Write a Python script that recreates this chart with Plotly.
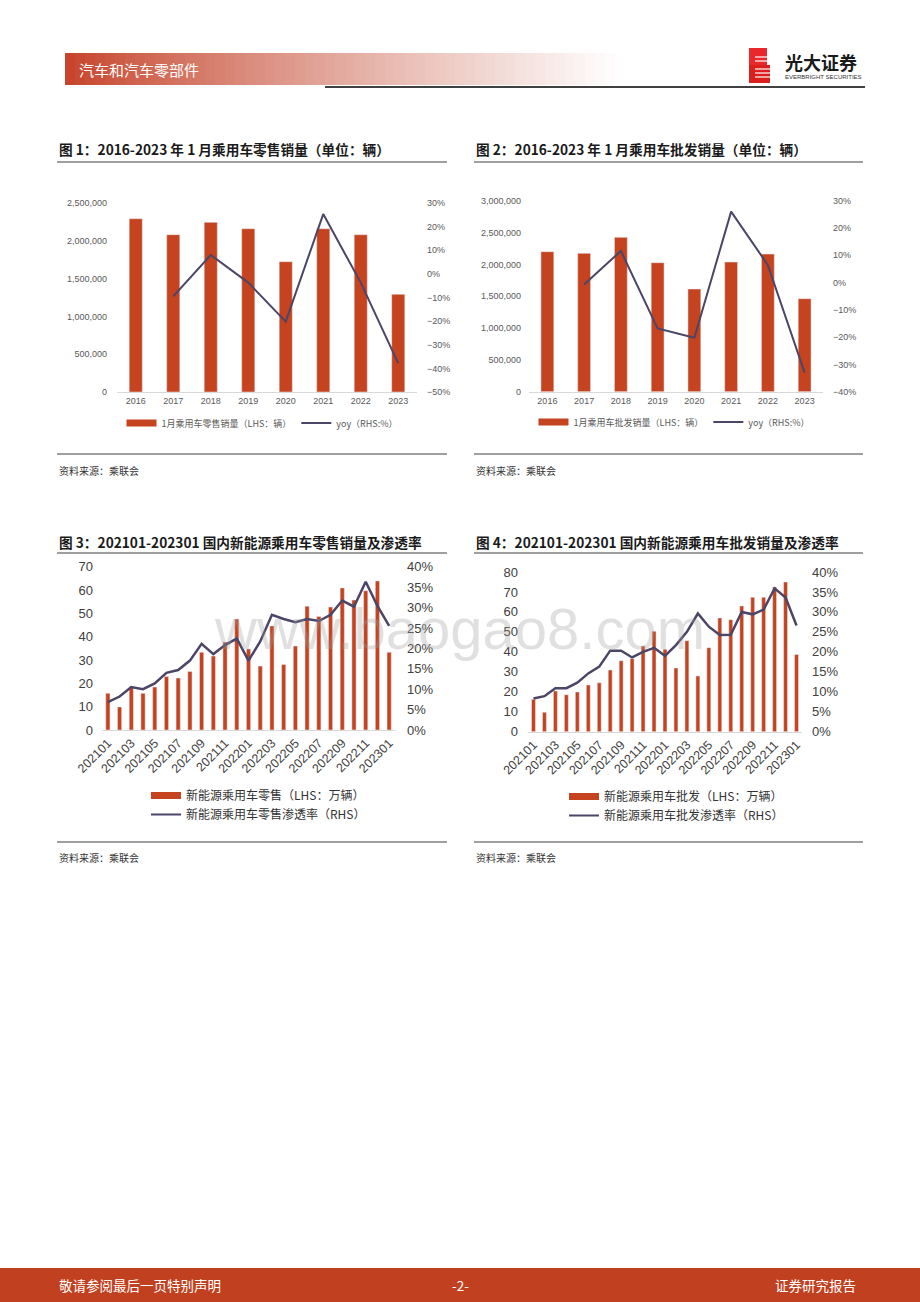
import plotly.graph_objects as go

W, H = 920, 1302


def px(x):
    return x / W


def py(y):
    return 1 - y / H


# ---------------- data ----------------
years = ['2016', '2017', '2018', '2019', '2020', '2021', '2022', '2023']
retail_jan = [2293000, 2081000, 2244000, 2160000, 1724000, 2160000, 2081000, 1292000]
retail_yoy = [None, -9.5, 8.0, -3.7, -20.2, 25.3, -3.7, -37.9]
wholesale_jan = [2199000, 2173000, 2424000, 2026000, 1613000, 2037000, 2162000, 1461000]
wholesale_yoy = [None, -0.7, 11.6, -16.8, -20.2, 26.0, 6.4, -33.0]

months = ['202101', '202102', '202103', '202104', '202105', '202106', '202107', '202108',
          '202109', '202110', '202111', '202112', '202201', '202202', '202203', '202204',
          '202205', '202206', '202207', '202208', '202209', '202210', '202211', '202212',
          '202301']
month_ticks = months[::2]
nev_retail = [15.7, 9.9, 18.6, 15.7, 18.4, 22.9, 22.3, 25.1, 33.3, 31.7, 37.7, 47.6, 34.7,
              27.4, 44.6, 28.1, 36.0, 53.1, 48.7, 52.7, 60.9, 55.7, 59.7, 63.9, 33.3]
nev_retail_pen = [6.8, 8.2, 10.5, 10.0, 11.4, 14.0, 14.7, 17.0, 21.1, 18.6, 20.8, 22.4, 17.0,
                  21.7, 28.2, 27.2, 26.4, 27.2, 26.7, 28.2, 31.7, 30.2, 36.3, 30.4, 25.5]
nev_wholesale = [16.2, 9.7, 20.4, 18.5, 19.9, 23.4, 24.5, 30.9, 35.6, 36.6, 42.9, 50.3, 41.3,
                 31.9, 45.6, 27.9, 42.1, 57.0, 56.1, 63.0, 67.3, 67.3, 72.5, 75.0, 38.7]
nev_wholesale_pen = [8.3, 8.9, 10.9, 10.9, 12.3, 14.6, 16.3, 20.3, 20.3, 18.6, 20.0, 21.0, 19.0,
                     21.7, 25.0, 29.6, 26.3, 24.2, 24.3, 30.0, 29.4, 30.6, 35.9, 33.6, 26.6]

# ---------------- style ----------------
BAR = '#C5441F'
LINE = '#4B4567'
CJK = 'Noto Sans CJK SC'
LAT = 'Liberation Sans, Noto Sans CJK SC'
GRAY = '#595959'

fig = go.Figure()

# Chart 1
fig.add_trace(go.Bar(x=years, y=retail_jan, marker_color=BAR, width=0.35,
                     xaxis='x', yaxis='y', showlegend=False, name='1月乘用车零售销量（LHS：辆）'))
fig.add_trace(go.Scatter(x=years, y=retail_yoy, mode='lines', line=dict(color=LINE, width=2),
                         xaxis='x', yaxis='y2', showlegend=False, name='yoy（RHS:%）'))
fig.add_trace(go.Scatter(x=[None], y=[None], mode='lines', line=dict(color=BAR, width=7),
                         xaxis='x', yaxis='y', name='1月乘用车零售销量（LHS：辆）', legend='legend'))
fig.add_trace(go.Scatter(x=[None], y=[None], mode='lines', line=dict(color=LINE, width=2),
                         xaxis='x', yaxis='y', name='yoy（RHS:%）', legend='legend'))

# Chart 2
fig.add_trace(go.Bar(x=years, y=wholesale_jan, marker_color=BAR, width=0.35,
                     xaxis='x2', yaxis='y3', showlegend=False))
fig.add_trace(go.Scatter(x=years, y=wholesale_yoy, mode='lines', line=dict(color=LINE, width=2),
                         xaxis='x2', yaxis='y4', showlegend=False))
fig.add_trace(go.Scatter(x=[None], y=[None], mode='lines', line=dict(color=BAR, width=7),
                         xaxis='x2', yaxis='y3', name='1月乘用车批发销量（LHS：辆）', legend='legend2'))
fig.add_trace(go.Scatter(x=[None], y=[None], mode='lines', line=dict(color=LINE, width=2),
                         xaxis='x2', yaxis='y3', name='yoy（RHS:%）', legend='legend2'))

# Chart 3
fig.add_trace(go.Bar(x=months, y=nev_retail, marker_color=BAR, width=0.36,
                     xaxis='x3', yaxis='y5', showlegend=False))
fig.add_trace(go.Scatter(x=months, y=nev_retail_pen, mode='lines', line=dict(color=LINE, width=2.5),
                         xaxis='x3', yaxis='y6', showlegend=False))
fig.add_trace(go.Scatter(x=[None], y=[None], mode='lines', line=dict(color=BAR, width=7),
                         xaxis='x3', yaxis='y5', name='新能源乘用车零售（LHS：万辆）', legend='legend3'))
fig.add_trace(go.Scatter(x=[None], y=[None], mode='lines', line=dict(color=LINE, width=2),
                         xaxis='x3', yaxis='y5', name='新能源乘用车零售渗透率（RHS）', legend='legend3'))

# Chart 4
fig.add_trace(go.Bar(x=months, y=nev_wholesale, marker_color=BAR, width=0.36,
                     xaxis='x4', yaxis='y7', showlegend=False))
fig.add_trace(go.Scatter(x=months, y=nev_wholesale_pen, mode='lines', line=dict(color=LINE, width=2.5),
                         xaxis='x4', yaxis='y8', showlegend=False))
fig.add_trace(go.Scatter(x=[None], y=[None], mode='lines', line=dict(color=BAR, width=7),
                         xaxis='x4', yaxis='y7', name='新能源乘用车批发（LHS：万辆）', legend='legend4'))
fig.add_trace(go.Scatter(x=[None], y=[None], mode='lines', line=dict(color=LINE, width=2),
                         xaxis='x4', yaxis='y7', name='新能源乘用车批发渗透率（RHS）', legend='legend4'))

small_tick = dict(family=LAT, size=9, color=GRAY)
big_tick = dict(family=LAT, size=13, color='#404040')
rot_tick = dict(family=LAT, size=12.5, color='#404040')


def xax(domain, anchor, font, angle=0, tickvals=None):
    d = dict(domain=domain, anchor=anchor, type='category', showgrid=False, zeroline=False,
             showline=True, linecolor='#d9d9d9', linewidth=1, ticks='', tickfont=font,
             tickangle=angle, fixedrange=True)
    if tickvals is not None:
        d['tickvals'] = tickvals
    return d


def yax(domain, anchor, rng, dtick, font, fmt=None, suffix='', side='left', overlay=None, standoff=8):
    d = dict(domain=domain, anchor=anchor, range=rng, dtick=dtick, tick0=rng[0], showgrid=False,
             zeroline=False, showline=False, ticks='', tickfont=font, side=side,
             ticksuffix=suffix, ticklabelstandoff=standoff, fixedrange=True)
    if fmt:
        d['tickformat'] = fmt
    if overlay:
        d['overlaying'] = overlay
    return d


d1x = [px(117), px(417)]
d1y = [py(392), py(203)]
d2x = [px(529), px(823)]
d2y = [py(391.7), py(200.7)]
d3x = [px(102), px(395)]
d3y = [py(730), py(566.7)]
d4x = [px(528), px(802)]
d4y = [py(731.7), py(572)]

fig.update_layout(
    xaxis=xax(d1x, 'y', small_tick),
    yaxis=yax(d1y, 'x', [0, 2500000], 500000, small_tick, fmt=',d', standoff=9),
    yaxis2=yax(d1y, 'x', [-50, 30], 10, small_tick, suffix='%', side='right', overlay='y', standoff=9),
    xaxis2=xax(d2x, 'y3', small_tick),
    yaxis3=yax(d2y, 'x2', [0, 3000000], 500000, small_tick, fmt=',d', standoff=7),
    yaxis4=yax(d2y, 'x2', [-40, 30], 10, small_tick, suffix='%', side='right', overlay='y3', standoff=9),
    xaxis3=xax(d3x, 'y5', rot_tick, -45, month_ticks),
    yaxis5=yax(d3y, 'x3', [0, 70], 10, big_tick, standoff=8),
    yaxis6=yax(d3y, 'x3', [0, 40], 5, big_tick, suffix='%', side='right', overlay='y5', standoff=11),
    xaxis4=xax(d4x, 'y7', rot_tick, -45, month_ticks),
    yaxis7=yax(d4y, 'x4', [0, 80], 10, big_tick, standoff=9),
    yaxis8=yax(d4y, 'x4', [0, 40], 5, big_tick, suffix='%', side='right', overlay='y7', standoff=9),
)

leg_small = dict(family=CJK, size=9, color=GRAY)
leg_big = dict(family=CJK, size=12, color='#333333')
fig.update_layout(
    legend=dict(orientation='h', x=px(262), xanchor='center', y=py(423), yanchor='middle',
                font=leg_small, bgcolor='rgba(0,0,0,0)', itemwidth=30, tracegroupgap=0),
    legend2=dict(orientation='h', x=px(674), xanchor='center', y=py(422), yanchor='middle',
                 font=leg_small, bgcolor='rgba(0,0,0,0)', itemwidth=30, tracegroupgap=0),
    legend3=dict(orientation='v', x=px(146), xanchor='left', y=py(805), yanchor='middle',
                 font=leg_big, bgcolor='rgba(0,0,0,0)', itemwidth=30, tracegroupgap=0),
    legend4=dict(orientation='v', x=px(564), xanchor='left', y=py(806), yanchor='middle',
                 font=leg_big, bgcolor='rgba(0,0,0,0)', itemwidth=30, tracegroupgap=0),
)

shapes = []
annotations = []

# ---- header gradient band ----
n = 56
x0, x1 = 65, 625
for i in range(n):
    t = i / (n - 1)
    r = int(200 + (255 - 200) * t)
    g = int(68 + (255 - 68) * (t ** 0.85))
    b = int(44 + (255 - 44) * (t ** 0.85))
    xa = x0 + (x1 - x0) * i / n
    xb = x0 + (x1 - x0) * (i + 1) / n + 0.5
    shapes.append(dict(type='rect', xref='paper', yref='paper', x0=px(xa), x1=px(xb),
                       y0=py(85), y1=py(53), line=dict(width=0), fillcolor=f'rgb({r},{g},{b})',
                       layer='below'))
shapes.append(dict(type='line', xref='paper', yref='paper', x0=px(325), x1=px(865), y0=py(87),
                   y1=py(87), line=dict(color='#404040', width=2)))
annotations.append(dict(text='汽车和汽车零部件', x=px(77), y=py(69), xref='paper', yref='paper',
                        xanchor='left', yanchor='middle', showarrow=False,
                        font=dict(family=CJK, size=15, color='white')))

# ---- logo ----
shapes.append(dict(type='rect', xref='paper', yref='paper', x0=px(749), x1=px(767), y0=py(65),
                   y1=py(48), line=dict(width=0), fillcolor='#E8282B'))
shapes.append(dict(type='rect', xref='paper', yref='paper', x0=px(749), x1=px(770), y0=py(83),
                   y1=py(65), line=dict(width=0), fillcolor='#D9201F'))
for yy in [57, 61, 69, 73, 77]:
    shapes.append(dict(type='line', xref='paper', yref='paper', x0=px(755), x1=px(771), y0=py(yy),
                       y1=py(yy), line=dict(color='white', width=1.2)))
annotations.append(dict(text='<b>光大证券</b>', x=px(783), y=py(62), xref='paper', yref='paper',
                        xanchor='left', yanchor='middle', showarrow=False,
                        font=dict(family=CJK, size=18, color='#1a1a1a')))
annotations.append(dict(text='EVERBRIGHT SECURITIES', x=px(783), y=py(77), xref='paper', yref='paper',
                        xanchor='left', yanchor='middle', showarrow=False,
                        font=dict(family=LAT, size=6, color='#333333')))

# ---- titles / lines / sources ----
titles = [
    ('图 1：2016-2023 年 1 月乘用车零售销量（单位：辆）', 57, 149),
    ('图 2：2016-2023 年 1 月乘用车批发销量（单位：辆）', 474, 149),
    ('图 3：202101-202301 国内新能源乘用车零售销量及渗透率', 57, 542),
    ('图 4：202101-202301 国内新能源乘用车批发销量及渗透率', 474, 542),
]
for txt, x, y in titles:
    annotations.append(dict(text='<b>' + txt + '</b>', x=px(x), y=py(y), xref='paper', yref='paper',
                            xanchor='left', yanchor='middle', showarrow=False,
                            font=dict(family=CJK, size=13.7, color='#1a1a1a')))
for (xa, xb) in [(57, 447), (474, 863)]:
    for yy in [162, 454, 553, 842]:
        shapes.append(dict(type='line', xref='paper', yref='paper', x0=px(xa), x1=px(xb), y0=py(yy),
                           y1=py(yy), line=dict(color='#7f7f7f', width=1.5)))
    for yy in [470, 857]:
        annotations.append(dict(text='资料来源：乘联会', x=px(xa), y=py(yy), xref='paper', yref='paper',
                                xanchor='left', yanchor='middle', showarrow=False,
                                font=dict(family=CJK, size=10, color='#333333')))

# ---- watermark ----
annotations.append(dict(text='www.baogao8.com', x=px(459), y=py(628), xref='paper', yref='paper',
                        xanchor='center', yanchor='middle', showarrow=False,
                        font=dict(family=LAT, size=58, color='rgba(160,160,160,0.32)')))

# ---- footer ----
shapes.append(dict(type='rect', xref='paper', yref='paper', x0=0, x1=1, y0=0, y1=py(1268),
                   line=dict(width=0), fillcolor='#C0401F', layer='below'))
for txt, x, anc in [('敬请参阅最后一页特别声明', 57, 'left'), ('-2-', 460, 'center'),
                    ('证券研究报告', 858, 'right')]:
    annotations.append(dict(text=txt, x=px(x), y=py(1285), xref='paper', yref='paper',
                            xanchor=anc, yanchor='middle', showarrow=False,
                            font=dict(family=CJK, size=13.5, color='white')))

fig.update_layout(
    width=W, height=H, margin=dict(l=0, r=0, t=0, b=0, pad=0, autoexpand=False),
    paper_bgcolor='white', plot_bgcolor='rgba(0,0,0,0)',
    shapes=shapes, annotations=annotations, bargap=0.65,
    font=dict(family=CJK),
)

fig.write_html('out.html', config={'displayModeBar': False},
               post_script="document.body.style.margin='0';document.body.style.padding='0';"
                           "document.body.style.overflow='hidden';")
